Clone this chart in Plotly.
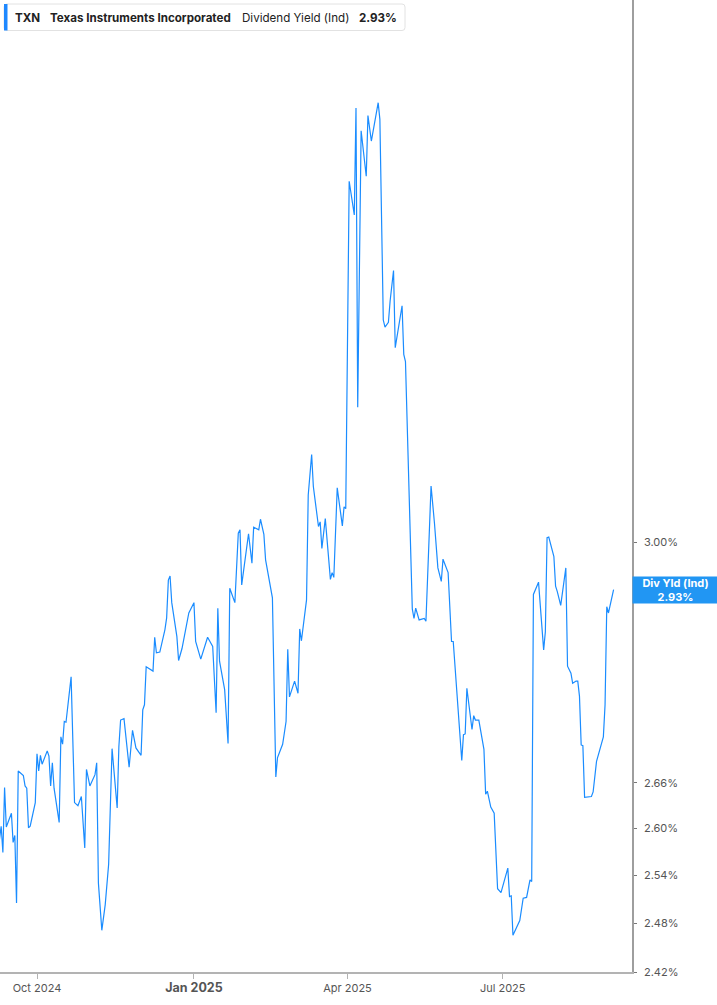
import math
import plotly.graph_objects as go

dates = [
    "2024-09-09", "2024-09-10", "2024-09-11", "2024-09-12", "2024-09-13", "2024-09-16", "2024-09-17", "2024-09-18",
    "2024-09-19", "2024-09-20", "2024-09-23", "2024-09-24", "2024-09-25", "2024-09-26", "2024-09-27", "2024-09-30",
    "2024-10-01", "2024-10-02", "2024-10-03", "2024-10-04", "2024-10-07", "2024-10-08", "2024-10-09", "2024-10-10",
    "2024-10-11", "2024-10-14", "2024-10-15", "2024-10-16", "2024-10-17", "2024-10-18", "2024-10-21", "2024-10-23",
    "2024-10-25", "2024-10-27", "2024-10-29", "2024-10-30", "2024-11-01", "2024-11-04", "2024-11-05", "2024-11-06",
    "2024-11-08", "2024-11-10", "2024-11-12", "2024-11-13", "2024-11-14", "2024-11-17", "2024-11-18", "2024-11-19",
    "2024-11-21", "2024-11-24", "2024-11-26", "2024-11-28", "2024-12-01", "2024-12-02", "2024-12-03", "2024-12-04",
    "2024-12-08", "2024-12-09", "2024-12-10", "2024-12-12", "2024-12-15", "2024-12-16", "2024-12-17", "2024-12-18",
    "2024-12-19", "2024-12-22", "2024-12-23", "2024-12-25", "2024-12-29", "2025-01-01", "2025-01-02", "2025-01-05",
    "2025-01-09", "2025-01-12", "2025-01-14", "2025-01-15", "2025-01-16", "2025-01-19", "2025-01-21", "2025-01-22",
    "2025-01-25", "2025-01-27", "2025-01-28", "2025-01-29", "2025-02-01", "2025-02-02", "2025-02-04", "2025-02-05",
    "2025-02-08", "2025-02-09", "2025-02-11", "2025-02-12", "2025-02-16", "2025-02-18", "2025-02-19", "2025-02-22",
    "2025-02-24", "2025-02-25", "2025-02-26", "2025-03-01", "2025-03-03", "2025-03-04", "2025-03-05", "2025-03-08",
    "2025-03-09", "2025-03-11", "2025-03-12", "2025-03-15", "2025-03-16", "2025-03-17", "2025-03-19", "2025-03-22",
    "2025-03-23", "2025-03-24", "2025-03-26", "2025-03-29", "2025-03-30", "2025-03-31", "2025-04-02", "2025-04-05",
    "2025-04-06", "2025-04-07", "2025-04-09", "2025-04-12", "2025-04-13", "2025-04-15", "2025-04-19", "2025-04-20",
    "2025-04-22", "2025-04-23", "2025-04-25", "2025-04-26", "2025-04-28", "2025-04-29", "2025-05-03", "2025-05-04",
    "2025-05-05", "2025-05-07", "2025-05-09", "2025-05-10", "2025-05-11", "2025-05-13", "2025-05-16", "2025-05-17",
    "2025-05-20", "2025-05-22", "2025-05-24", "2025-05-26", "2025-05-27", "2025-05-30", "2025-06-01", "2025-06-02",
    "2025-06-07", "2025-06-08", "2025-06-09", "2025-06-10", "2025-06-13", "2025-06-14", "2025-06-15", "2025-06-17",
    "2025-06-20", "2025-06-21", "2025-06-22", "2025-06-24", "2025-06-26", "2025-06-28", "2025-06-30", "2025-07-04",
    "2025-07-05", "2025-07-06", "2025-07-07", "2025-07-11", "2025-07-13", "2025-07-15", "2025-07-17", "2025-07-18",
    "2025-07-19", "2025-07-22", "2025-07-25", "2025-07-26", "2025-07-27", "2025-07-28", "2025-07-31", "2025-08-01",
    "2025-08-02", "2025-08-04", "2025-08-07", "2025-08-08", "2025-08-10", "2025-08-11", "2025-08-13", "2025-08-14",
    "2025-08-15", "2025-08-16", "2025-08-17", "2025-08-18", "2025-08-22", "2025-08-23", "2025-08-25", "2025-08-29",
    "2025-08-30", "2025-08-31", "2025-09-01", "2025-09-04",
]

div_yield = [
    2.586, 2.603, 2.569, 2.654, 2.602, 2.620, 2.582, 2.591,
    2.505, 2.676, 2.670, 2.656, 2.653, 2.601, 2.603, 2.634,
    2.699, 2.676, 2.697, 2.685, 2.703, 2.696, 2.656, 2.687,
    2.653, 2.608, 2.722, 2.712, 2.743, 2.742, 2.805, 2.634,
    2.630, 2.642, 2.575, 2.678, 2.656, 2.671, 2.687, 2.530,
    2.471, 2.503, 2.554, 2.645, 2.706, 2.627, 2.709, 2.745,
    2.747, 2.681, 2.731, 2.707, 2.697, 2.759, 2.766, 2.819,
    2.813, 2.861, 2.839, 2.840, 2.872, 2.889, 2.944, 2.950,
    2.911, 2.862, 2.828, 2.845, 2.896, 2.911, 2.855, 2.830,
    2.861, 2.848, 2.755, 2.903, 2.827, 2.787, 2.713, 2.932,
    2.911, 3.014, 3.019, 2.937, 2.989, 3.013, 2.969, 3.023,
    3.019, 3.035, 3.012, 2.974, 2.918, 2.668, 2.694, 2.712,
    2.743, 2.844, 2.777, 2.799, 2.782, 2.873, 2.856, 2.915,
    3.072, 3.135, 3.085, 3.024, 3.031, 2.991, 3.036, 2.945,
    2.955, 2.948, 3.083, 3.025, 3.054, 3.051, 3.594, 3.534,
    3.728, 3.210, 3.686, 3.603, 3.714, 3.667, 3.738, 3.707,
    3.353, 3.341, 3.349, 3.385, 3.437, 3.307, 3.377, 3.296,
    3.284, 3.078, 2.902, 2.888, 2.903, 2.886, 2.888, 2.884,
    3.086, 3.029, 2.962, 2.942, 2.975, 2.955, 2.855, 2.855,
    2.690, 2.725, 2.726, 2.789, 2.732, 2.751, 2.745, 2.745,
    2.705, 2.645, 2.649, 2.628, 2.620, 2.523, 2.518, 2.549,
    2.513, 2.514, 2.465, 2.483, 2.511, 2.512, 2.534, 2.532,
    2.923, 2.941, 2.843, 2.869, 3.007, 3.008, 2.979, 2.935,
    2.927, 2.907, 2.962, 2.820, 2.810, 2.796, 2.799, 2.799,
    2.778, 2.711, 2.710, 2.641, 2.642, 2.648, 2.689, 2.722,
    2.766, 2.905, 2.896, 2.930,
]

x_tick_vals = ["2024-10-01", "2025-01-01", "2025-04-01", "2025-07-01"]
x_tick_text = ["Oct 2024", "<span style='font-size:12.5px'><b>Jan 2025</b></span>", "Apr 2025", "Jul 2025"]
y_tick_vals = [2.42, 2.48, 2.54, 2.60, 2.66, 3.00]
y_tick_text = ["2.42%", "2.48%", "2.54%", "2.60%", "2.66%", "3.00%"]

ticker = "TXN"
company = "Texas Instruments Incorporated"
metric = "Dividend Yield (Ind)"
metric_short = "Div Yld (Ind)"
last_value = div_yield[-1]

LINE_BLUE = "#1a8cff"
BOX_BLUE = "#2196f3"
FONT = "Inter, Roboto, Arial, sans-serif"

W, H = 717, 1005
ML, MR, MT, MB = 0, 85, 0, 33
PW, PH = W - ML - MR, H - MT - MB


def px(xpix):
    return (xpix - ML) / PW


def py(ypix):
    return 1 - (ypix - MT) / PH


fig = go.Figure()
fig.add_trace(go.Scatter(
    x=dates, y=div_yield, mode="lines",
    line=dict(color=LINE_BLUE, width=1.2),
    hoverinfo="skip", showlegend=False,
))

fig.update_layout(
    width=W, height=H,
    margin=dict(l=ML, r=MR, t=MT, b=MB, pad=0),
    paper_bgcolor="white", plot_bgcolor="white",
    font=dict(family=FONT, size=11, color="#555"),
    showlegend=False,
    xaxis=dict(
        type="date",
        range=["2024-09-09 07:30", "2025-09-14 19:00"],
        tickvals=x_tick_vals, ticktext=x_tick_text,
        showgrid=False, zeroline=False,
        showline=True, linecolor="#b3b3b3", linewidth=2,
        ticks="outside", ticklen=5, tickcolor="#b3b3b3", tickwidth=1,
        tickfont=dict(family=FONT, size=11, color="#555"),
        fixedrange=True,
    ),
    yaxis=dict(
        type="log",
        range=[math.log10(2.42), math.log10(3.935)],
        side="right",
        tickvals=y_tick_vals, ticktext=y_tick_text,
        showgrid=False, zeroline=False,
        showline=True, linecolor="#9e9e9e", linewidth=1.5,
        ticks="outside", ticklen=3, tickcolor="#777", tickwidth=1,
        tickfont=dict(family=FONT, size=11, color="#555"),
        ticklabelstandoff=5,
        fixedrange=True,
    ),
)

# legend / title box at top-left
bx0, bx1, by0, by1 = 4, 405, 4, 30.5
r = 3
rx, ry = r / PW, r / PH
x0, x1, y0, y1 = px(bx0), px(bx1), py(by0), py(by1)
path = (f"M {x0 + rx} {y0} L {x1 - rx} {y0} Q {x1} {y0} {x1} {y0 - ry} "
        f"L {x1} {y1 + ry} Q {x1} {y1} {x1 - rx} {y1} L {x0 + rx} {y1} "
        f"Q {x0} {y1} {x0} {y1 + ry} L {x0} {y0 - ry} Q {x0} {y0} {x0 + rx} {y0} Z")
fig.add_shape(type="path", path=path, xref="paper", yref="paper",
              line=dict(color="#e2e2e2", width=1), fillcolor="white", layer="above")
fig.add_shape(type="rect", xref="paper", yref="paper",
              x0=px(4), x1=px(7.5), y0=py(4), y1=py(30.5),
              line=dict(width=0), fillcolor="#1e88ff", layer="above")

title_parts = [
    (13, f"<b>{ticker}</b>"),
    (48, f"<b>{company}</b>"),
    (240, metric),
    (357, f"<b>{last_value:.2f}%</b>"),
]
for xpix, txt in title_parts:
    fig.add_annotation(
        x=px(xpix), y=py(17.5), xref="paper", yref="paper",
        xanchor="left", yanchor="middle", showarrow=False,
        text=txt, font=dict(family=FONT, size=11.6, color="#222"),
    )

# last value label on the right axis
fig.add_annotation(
    x=1, xref="paper", xanchor="left",
    y=math.log10(last_value), yref="y", yanchor="middle",
    showarrow=False, align="center",
    text=f"<b>{metric_short}</b><br><b>{last_value:.2f}%</b>",
    font=dict(family=FONT, size=11, color="white"),
    bgcolor=BOX_BLUE, width=85, height=26, borderpad=0,
)

fig.write_html("out.html", config={"displayModeBar": False},
               post_script="document.body.style.margin='0';")
